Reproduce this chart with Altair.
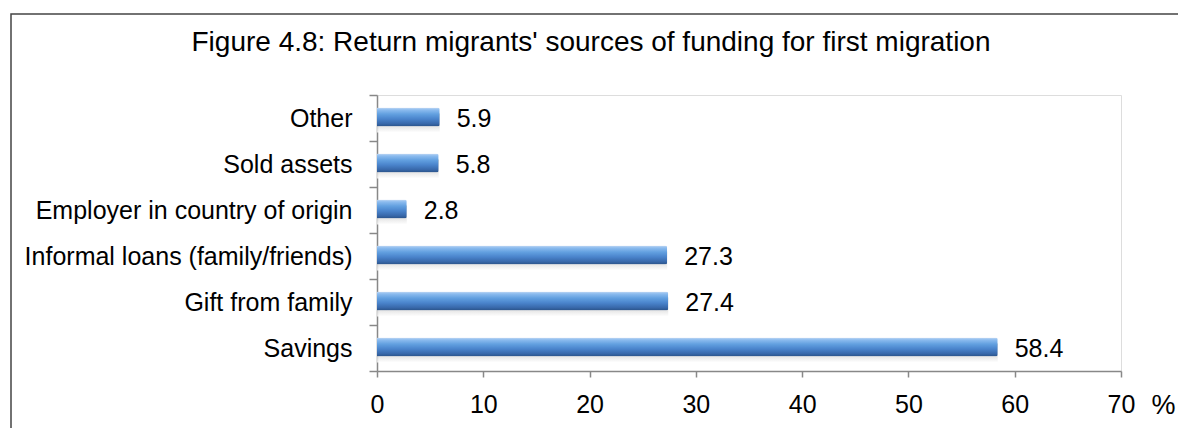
import altair as alt
import pandas as pd

categories = ["Other", "Sold assets", "Employer in country of origin",
              "Informal loans (family/friends)", "Gift from family", "Savings"]
values = [5.9, 5.8, 2.8, 27.3, 27.4, 58.4]
x_ticks = [0, 10, 20, 30, 40, 50, 60, 70]

df = pd.DataFrame({"source": categories, "pct": values})
df["label"] = df["pct"].map(lambda v: f"{v:.1f}")

FONT = "Liberation Sans"
FS = 25

bar_grad = alt.Gradient(
    gradient="linear", x1=0, y1=0, x2=0, y2=1,
    stops=[
        alt.GradientStop(color="#c4daf3", offset=0.0),
        alt.GradientStop(color="#8dbcef", offset=0.12),
        alt.GradientStop(color="#62a0e0", offset=0.35),
        alt.GradientStop(color="#4a84cc", offset=0.6),
        alt.GradientStop(color="#3868aa", offset=0.85),
        alt.GradientStop(color="#2a5288", offset=1.0),
    ],
)
shadow_grad = alt.Gradient(
    gradient="linear", x1=0, y1=0, x2=0, y2=1,
    stops=[
        alt.GradientStop(color="#a8a8a8", offset=0.0),
        alt.GradientStop(color="#d8d8d8", offset=0.6),
        alt.GradientStop(color="#ffffff", offset=1.0),
    ],
)

y_enc = alt.Y(
    "source:N", sort=categories, title=None,
    scale=alt.Scale(paddingInner=0, paddingOuter=0),
    axis=alt.Axis(tickBand="extent", tickSize=8, tickColor="#888888",
                  tickWidth=1.5, domainColor="#888888", domainWidth=1.5,
                  labelPadding=17, labelFont=FONT, labelFontSize=FS,
                  labelColor="#000000", labelLimit=500),
)
x_enc = alt.X(
    "pct:Q", title="%",
    scale=alt.Scale(domain=[0, 70]),
    axis=alt.Axis(values=x_ticks, grid=False, tickSize=6, tickColor="#888888",
                  tickWidth=1.5, domainColor="#888888", domainWidth=1.5,
                  labelPadding=15, labelFont=FONT, labelFontSize=FS,
                  labelColor="#000000", labelFlush=False,
                  titleFont=FONT, titleFontSize=27, titleFontWeight="normal",
                  titleColor="#000000", titleX=786, titleY=34,
                  titleAlign="center", titleBaseline="middle", titleAngle=0),
)

base = alt.Chart(df)

frame = base.mark_rect(fill=None, stroke="#444444", strokeWidth=1.5).encode(
    x=alt.value(-366), x2=alt.value(830), y=alt.value(-81), y2=alt.value(360)
).transform_filter(alt.datum.source == "Savings")

shadow = base.mark_bar(size=19, yOffset=5, color=shadow_grad, opacity=0.8).encode(
    x=x_enc, y=y_enc)

bars = base.mark_bar(size=19, yOffset=-1, color=bar_grad, cornerRadiusEnd=2).encode(
    x=x_enc, y=y_enc)

labels = base.mark_text(align="left", baseline="middle", dx=17, dy=1,
                        font=FONT, fontSize=FS, color="#000000").encode(
    x="pct:Q", y=alt.Y("source:N", sort=categories), text="label:N")

chart = alt.layer(frame, shadow, bars, labels).properties(
    width=744, height=276,
    title=alt.TitleParams(
        "Figure 4.8: Return migrants' sources of funding for first migration",
        font=FONT, fontSize=28, fontWeight="normal", color="#000000",
        anchor="middle", frame="group", dx=-158, offset=-66,
        baseline="alphabetic"),
    autosize=alt.AutoSizeParams(type="none"),
    padding={"left": 369, "top": 87, "right": 57, "bottom": 57},
).configure_view(stroke=None).configure(background="#ffffff")

chart.save("out.html", embed_options={"renderer": "svg", "actions": False})
